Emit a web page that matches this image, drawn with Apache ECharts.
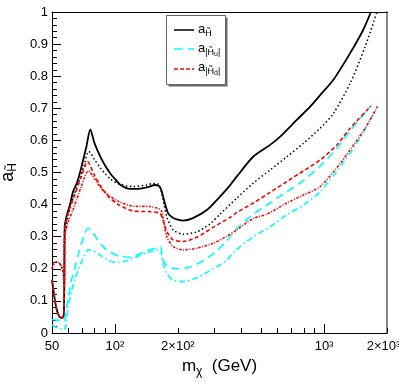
<!DOCTYPE html>
<html>
<head>
<meta charset="utf-8">
<script src="https://cdn.jsdelivr.net/npm/echarts@6/dist/echarts.min.js"></script>
<style>
  html, body { margin: 0; padding: 0; background: #fff; }
  #chart { width: 399px; height: 383px; }
</style>
</head>
<body>
<div id="chart"></div>
<script>
// [m_chi (GeV), a]
const aH = [[50,0.165],[51,0.125],[52,0.09],[53.3,0.062],[55,0.048],[56.3,0.048],[57,0.06],[57.3,0.2],[57.5,0.33],[59,0.37],[61,0.40],[63,0.44],[66,0.47],[69,0.515],[73,0.58],[76.2,0.634],[80,0.59],[85,0.55],[90,0.52],[95,0.497],[100,0.48],[106,0.462],[118,0.449],[130,0.449],[145,0.455],[155,0.461],[162,0.459],[166,0.448],[170,0.425],[174,0.4],[180,0.372],[190,0.358],[200,0.353],[212,0.35],[236,0.358],[275,0.383],[318,0.425],[355,0.46],[382,0.487],[458,0.549],[552,0.586],[617,0.612],[741,0.664],[858,0.705],[958,0.741],[1106,0.788],[1333,0.872],[1538,0.944],[1675,1.0]];
const aHDot = [[50,0.2],[51,0.215],[52.5,0.222],[54.5,0.216],[56,0.2],[56.8,0.178],[57.3,0.15],[57.5,0.3],[58.5,0.335],[60,0.37],[63,0.42],[67,0.47],[71,0.52],[75,0.566],[80,0.54],[85,0.515],[90,0.495],[95,0.48],[104,0.465],[122,0.456],[142,0.461],[152,0.466],[160,0.465],[165,0.452],[170,0.414],[177,0.362],[190,0.321],[212,0.308],[246,0.315],[285,0.34],[318,0.37],[382,0.42],[459,0.467],[552,0.508],[664,0.549],[797,0.591],[958,0.638],[1109,0.684],[1333,0.778],[1572,0.892],[1790,1.0]];
const aHu = [[50,0.042],[53,0.04],[55.5,0.038],[57.2,0.036],[58.3,0.07],[60,0.115],[62,0.165],[65,0.215],[67.5,0.255],[71,0.3],[74.5,0.327],[78,0.315],[82.7,0.29],[89,0.265],[96,0.25],[105,0.24],[118,0.236],[130,0.245],[142,0.256],[158,0.265],[166,0.268],[167,0.245],[170,0.228],[177,0.21],[197,0.2],[229,0.205],[264,0.225],[306,0.255],[340,0.285],[382,0.325],[459,0.37],[552,0.405],[664,0.44],[797,0.475],[958,0.52],[1150,0.575],[1333,0.63],[1675,0.707]];
const aHuDashDot = [[50,0.025],[52,0.018],[54.7,0.013],[57,0.01],[58.3,0.025],[60,0.085],[62,0.13],[64.4,0.17],[67,0.2],[70,0.228],[74.5,0.259],[79,0.256],[84,0.245],[92,0.228],[100,0.22],[110,0.222],[118,0.228],[130,0.24],[142,0.25],[164,0.26],[166.5,0.26],[167.5,0.235],[170,0.215],[177,0.186],[190,0.165],[212,0.16],[246,0.172],[296,0.2],[340,0.225],[382,0.26],[459,0.3],[552,0.331],[664,0.368],[797,0.399],[958,0.44],[1200,0.52],[1400,0.58],[1572,0.635],[1801,0.705]];
const aHd = [[50,0.165],[51,0.125],[52,0.09],[53.3,0.062],[55,0.048],[56.3,0.048],[57,0.06],[57.3,0.2],[57.5,0.32],[59.7,0.373],[63.8,0.425],[69,0.487],[74,0.534],[80,0.49],[86,0.455],[93,0.425],[104,0.40],[122,0.38],[147,0.378],[164,0.373],[170,0.352],[177,0.316],[190,0.29],[212,0.285],[246,0.298],[296,0.33],[355,0.36],[382,0.375],[459,0.405],[552,0.438],[664,0.472],[797,0.505],[958,0.539],[1150,0.585],[1333,0.638],[1675,0.707]];
const aHdDot = [[50,0.2],[51,0.215],[52.5,0.222],[54.5,0.216],[56,0.2],[56.8,0.178],[57.3,0.15],[57.5,0.3],[58,0.315],[60,0.35],[63,0.383],[69,0.456],[74.6,0.505],[80,0.48],[86,0.45],[93,0.43],[104,0.41],[122,0.395],[147,0.394],[162,0.387],[167,0.38],[170,0.358],[177,0.3],[190,0.269],[212,0.259],[246,0.264],[296,0.28],[340,0.3],[382,0.321],[459,0.357],[532,0.37],[664,0.405],[797,0.43],[958,0.456],[1200,0.53],[1400,0.59],[1572,0.638],[1801,0.705]];

const xLabelValues = [50, 100, 200, 1000, 2000];
const xLabelText = ['50', '10²', '2×10²', '10³', '{r|2×10³}'];
const xMajorTicks = [100, 1000];
const xMinorTicks = [60, 70, 80, 90, 200, 300, 400, 500, 600, 700, 800, 900, 2000];

const FONT = 'Liberation Sans, Arial, sans-serif';
const chart = echarts.init(document.getElementById('chart'), null, { renderer: 'canvas' });

const mkLine = (data, color, type, width) => ({
  type: 'line',
  data: data,
  xAxisIndex: 0,
  yAxisIndex: 0,
  showSymbol: false,
  symbol: 'none',
  smooth: 0.25,
  lineStyle: { color: color, type: type, width: width },
  animation: false
});

chart.setOption({
  animation: false,
  backgroundColor: '#fff',
  grid: { left: 52, right: 12, top: 12, bottom: 50, outerBoundsMode: 'none' },
  xAxis: [
    {
      type: 'log', logBase: 10, min: 50, max: 2000, position: 'bottom',
      axisLine: { show: true, lineStyle: { color: '#000', width: 1 } },
      axisTick: { show: true, inside: true, length: 9, customValues: xMajorTicks, lineStyle: { color: '#000', width: 1 } },
      axisLabel: {
        customValues: xLabelValues, margin: 7, color: '#000', fontSize: 13, fontFamily: FONT,
        formatter: v => {
          const i = xLabelValues.findIndex(x => Math.abs(x - v) / x < 1e-6);
          return i >= 0 ? xLabelText[i] : '';
        },
        rich: { r: { fontSize: 13, fontFamily: FONT, color: '#000', padding: [0, 7, 0, 0] } }
      },
      splitLine: { show: false },
      name: '{m|m}{s|χ}{m|  (GeV)}',
      nameLocation: 'middle', nameGap: 21,
      nameTextStyle: {
        rich: {
          m: { fontSize: 17, fontFamily: FONT, color: '#000' },
          s: { fontSize: 12, fontFamily: FONT, color: '#000', padding: [10, 0, 0, 0] }
        }
      }
    },
    {
      type: 'log', logBase: 10, min: 50, max: 2000, position: 'bottom',
      axisLine: { show: false },
      axisTick: { show: true, inside: true, length: 5, customValues: xMinorTicks, lineStyle: { color: '#000', width: 1 } },
      axisLabel: { show: false },
      splitLine: { show: false }
    },
    {
      type: 'log', logBase: 10, min: 50, max: 2000, position: 'top',
      axisLine: { show: true, lineStyle: { color: '#000', width: 1 } },
      axisTick: { show: false }, axisLabel: { show: false }, splitLine: { show: false }
    }
  ],
  yAxis: [
    {
      type: 'value', min: 0, max: 1, interval: 0.1, position: 'left',
      axisLine: { show: true, lineStyle: { color: '#000', width: 1 } },
      axisTick: { show: true, inside: true, length: 9, lineStyle: { color: '#000', width: 1 } },
      minorTick: { show: true, splitNumber: 5, length: 5, lineStyle: { color: '#000', width: 1 } },
      axisLabel: { color: '#000', fontSize: 13, fontFamily: FONT, margin: 4 },
      splitLine: { show: false },
      name: '{a|a}{s|H̃}',
      nameLocation: 'middle', nameRotate: 90, nameGap: 32,
      nameTextStyle: {
        rich: {
          a: { fontSize: 18, fontFamily: FONT, color: '#000' },
          s: { fontSize: 12, fontFamily: FONT, color: '#000', padding: [10, 0, 0, 0] }
        }
      }
    },
    {
      type: 'value', min: 0, max: 1, position: 'right',
      axisLine: { show: true, lineStyle: { color: '#888', width: 2 } },
      axisTick: { show: false }, axisLabel: { show: false }, splitLine: { show: false }
    }
  ],
  series: [
    mkLine(aH, '#000000', 'solid', 1.8),
    mkLine(aHDot, '#000000', [1.5, 2.5], 1.5),
    mkLine(aHu, '#00ffff', [8, 5], 1.6),
    mkLine(aHuDashDot, '#00ffff', [6, 3, 1.5, 3], 1.6),
    mkLine(aHd, '#ff0000', [4, 2.5], 1.6),
    mkLine(aHdDot, '#ff0000', [2.5, 1.5, 1, 1.5], 1.6)
  ],
  graphic: [
    { type: 'rect', z: 100, shape: { x: 168.5, y: 17.5, width: 59, height: 69 }, style: { fill: '#666' } },
    { type: 'rect', z: 101, shape: { x: 166.5, y: 15.5, width: 59, height: 69 }, style: { fill: '#fff', stroke: '#666', lineWidth: 1 } },
    { type: 'line', z: 102, shape: { x1: 174, y1: 30, x2: 194, y2: 30 }, style: { stroke: '#000', lineWidth: 1.5 } },
    { type: 'line', z: 102, shape: { x1: 174, y1: 49, x2: 194, y2: 49 }, style: { stroke: '#00ffff', lineWidth: 1.5, lineDash: [9, 5] } },
    { type: 'line', z: 102, shape: { x1: 174, y1: 69, x2: 194, y2: 69 }, style: { stroke: '#ff0000', lineWidth: 1.5, lineDash: [4, 2] } },
    { type: 'text', z: 102, x: 198, y: 29, style: { text: '{a|a}{s|H̃}', verticalAlign: 'middle', rich: { a: { fontSize: 13, fontFamily: FONT, fill: '#000' }, s: { fontSize: 9, fontFamily: FONT, fill: '#000', padding: [9, 0, 0, 0] } } } },
    { type: 'text', z: 102, x: 198, y: 48, style: { text: '{a|a}{s||H̃}{t|u}{s||}', verticalAlign: 'middle', rich: { a: { fontSize: 13, fontFamily: FONT, fill: '#000' }, s: { fontSize: 9, fontFamily: FONT, fill: '#000', padding: [9, 0, 0, 0] }, t: { fontSize: 7, fontFamily: FONT, fill: '#000', padding: [12, 0, 0, 0] } } } },
    { type: 'text', z: 102, x: 198, y: 67, style: { text: '{a|a}{s||H̃}{t|d}{s||}', verticalAlign: 'middle', rich: { a: { fontSize: 13, fontFamily: FONT, fill: '#000' }, s: { fontSize: 9, fontFamily: FONT, fill: '#000', padding: [9, 0, 0, 0] }, t: { fontSize: 7, fontFamily: FONT, fill: '#000', padding: [12, 0, 0, 0] } } } }
  ]
});
</script>
</body>
</html>
